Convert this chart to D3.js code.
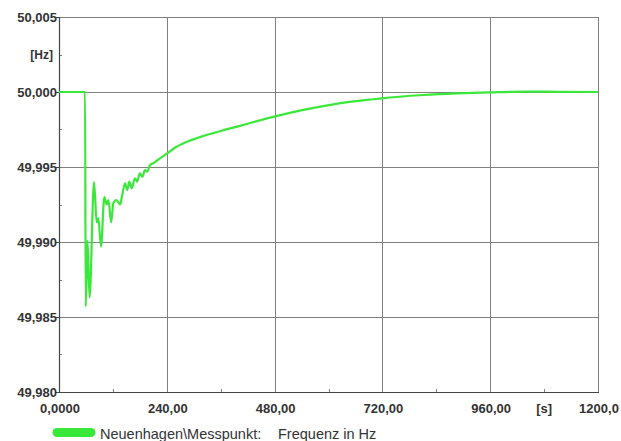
<!DOCTYPE html>
<html>
<head>
<meta charset="utf-8">
<script src="https://cdn.jsdelivr.net/npm/d3@7/dist/d3.min.js"></script>
<style>
  html, body { margin: 0; padding: 0; background: #fff; }
  svg { display: block; }
</style>
</head>
<body>
<svg id="chart" width="621" height="441"></svg>
<script>
// Time axis (s) and measured grid frequency (Hz)
const times = [0, 57, 58, 59.5, 63.5, 68, 78, 84, 87.5, 93.5, 101, 106, 110, 116, 121, 128, 136, 140,
  147, 152, 156.5, 162, 169, 174, 180, 185.5, 191.5, 196.5, 202.5, 210, 217, 225, 240, 258, 288,
  325, 362, 399, 430, 479, 536, 611, 692, 718, 811, 885, 960, 1040, 1110, 1200];
const freqs = [50.0, 50.0, 50.0, 49.9857, 49.9901, 49.9863, 49.9940, 49.9913, 49.9916, 49.9897,
  49.9930, 49.9925, 49.9928, 49.9913, 49.9926, 49.9928, 49.9925, 49.9930,
  49.99391, 49.99347, 49.99402, 49.99358, 49.99425, 49.99402, 49.99458, 49.99435, 49.99480, 49.99469,
  49.99513, 49.99525, 49.99540, 49.99558, 49.99589, 49.99628, 49.99672,
  49.99710, 49.99742, 49.99771, 49.99797, 49.99836, 49.99876, 49.99918, 49.99949, 49.99958,
  49.99980, 49.99991, 49.99998, 50.00003, 50.00001, 50.0];

const yTicks = [49.980, 49.985, 49.990, 49.995, 50.000, 50.005];
const yTickLabels = ["49,980", "49,985", "49,990", "49,995", "50,000", "50,005"];
const yMinor = [49.9825, 49.9875, 49.9925, 49.9975, 50.0025];
const xTicks = [0, 240, 480, 720, 960, 1200];
const xTickLabels = ["0,0000", "240,00", "480,00", "720,00", "960,00", "1200,0"];
const xMinor = [120, 360, 600, 840, 1080];
const yUnit = "[Hz]";
const xUnit = "[s]";
const seriesSource = "Neuenhagen\\Messpunkt:";
const seriesQuantity = "Frequenz in Hz";

const svg = d3.select("#chart");
const pLeft = 59, pRight = 598, pTop = 17, pBottom = 392;

const x = d3.scaleLinear().domain([0, 1200]).range([pLeft, pRight]);
const y = d3.scaleLinear().domain([49.980, 50.005]).range([pBottom, pTop]);

const grid = "#808080";
const axisCol = "#444";
const font = "'Liberation Sans', Arial, sans-serif";
const green = "#3ae83a";
const labelSize = 13;

// grid lines
svg.append("g").selectAll("line").data(yTicks.slice(1)).join("line")
  .attr("x1", pLeft).attr("x2", pRight)
  .attr("y1", d => Math.round(y(d)) + 0.5).attr("y2", d => Math.round(y(d)) + 0.5)
  .attr("stroke", grid).attr("stroke-width", 1);
svg.append("g").selectAll("line").data(xTicks.slice(1)).join("line")
  .attr("y1", pTop).attr("y2", pBottom + 1)
  .attr("x1", d => Math.round(x(d)) + 0.5).attr("x2", d => Math.round(x(d)) + 0.5)
  .attr("stroke", grid).attr("stroke-width", 1);

// minor ticks
svg.append("g").selectAll("line").data(yMinor).join("line")
  .attr("x1", pLeft).attr("x2", pLeft + 3)
  .attr("y1", d => Math.round(y(d)) + 0.5).attr("y2", d => Math.round(y(d)) + 0.5)
  .attr("stroke", grid);
svg.append("g").selectAll("line").data(xMinor).join("line")
  .attr("y1", pBottom - 3).attr("y2", pBottom)
  .attr("x1", d => Math.round(x(d)) + 0.5).attr("x2", d => Math.round(x(d)) + 0.5)
  .attr("stroke", grid);

// axis lines
svg.append("line").attr("x1", pLeft + 0.5).attr("x2", pLeft + 0.5)
  .attr("y1", pTop).attr("y2", pBottom + 1).attr("stroke", axisCol).attr("stroke-width", 1.2);
svg.append("line").attr("x1", pLeft).attr("x2", pRight + 1)
  .attr("y1", pBottom + 0.5).attr("y2", pBottom + 0.5).attr("stroke", axisCol).attr("stroke-width", 1.2);
// major y tick stubs
svg.append("g").selectAll("line").data(yTicks).join("line")
  .attr("x1", pLeft - 3).attr("x2", pLeft)
  .attr("y1", d => Math.round(y(d)) + 0.5).attr("y2", d => Math.round(y(d)) + 0.5)
  .attr("stroke", axisCol);

// y tick labels
svg.append("g").selectAll("text").data(yTicks).join("text")
  .attr("x", pLeft - 2).attr("y", d => y(d) + 4.5)
  .attr("text-anchor", "end")
  .attr("font-family", font).attr("font-weight", "bold").attr("font-size", labelSize)
  .attr("fill", "#333")
  .text((d, i) => yTickLabels[i]);
svg.append("text").attr("x", pLeft - 6).attr("y", y(yMinor[4]) + 4.5)
  .attr("text-anchor", "end")
  .attr("font-family", font).attr("font-weight", "bold").attr("font-size", labelSize - 1)
  .attr("fill", "#333").text(yUnit);

// x tick labels
svg.append("g").selectAll("text").data(xTicks).join("text")
  .attr("x", d => x(d) + 1).attr("y", pBottom + 21)
  .attr("text-anchor", "middle")
  .attr("font-family", font).attr("font-weight", "bold").attr("font-size", labelSize)
  .attr("fill", "#333")
  .text((d, i) => xTickLabels[i]);
svg.append("text").attr("x", x(xMinor[4])).attr("y", pBottom + 21)
  .attr("text-anchor", "middle")
  .attr("font-family", font).attr("font-weight", "bold").attr("font-size", labelSize)
  .attr("fill", "#333").text(xUnit);

// frequency trace
const line = d3.line().x(d => x(d[0])).y(d => y(d[1])).curve(d3.curveMonotoneX);
svg.append("path")
  .datum(times.map((t, i) => [t, freqs[i]]))
  .attr("d", line)
  .attr("fill", "none").attr("stroke", green).attr("stroke-width", 2.2)
  .attr("stroke-linejoin", "round");

// legend
svg.append("line").attr("x1", 57).attr("x2", 91).attr("y1", 432.5).attr("y2", 432.5)
  .attr("stroke", green).attr("stroke-width", 9).attr("stroke-linecap", "round");
const legendText = svg.append("text").attr("y", 439)
  .attr("font-family", font).attr("font-size", 14.5).attr("fill", "#333");
legendText.append("tspan").attr("x", 100).text(seriesSource);
legendText.append("tspan").attr("x", 278).text(seriesQuantity);
</script>
</body>
</html>
